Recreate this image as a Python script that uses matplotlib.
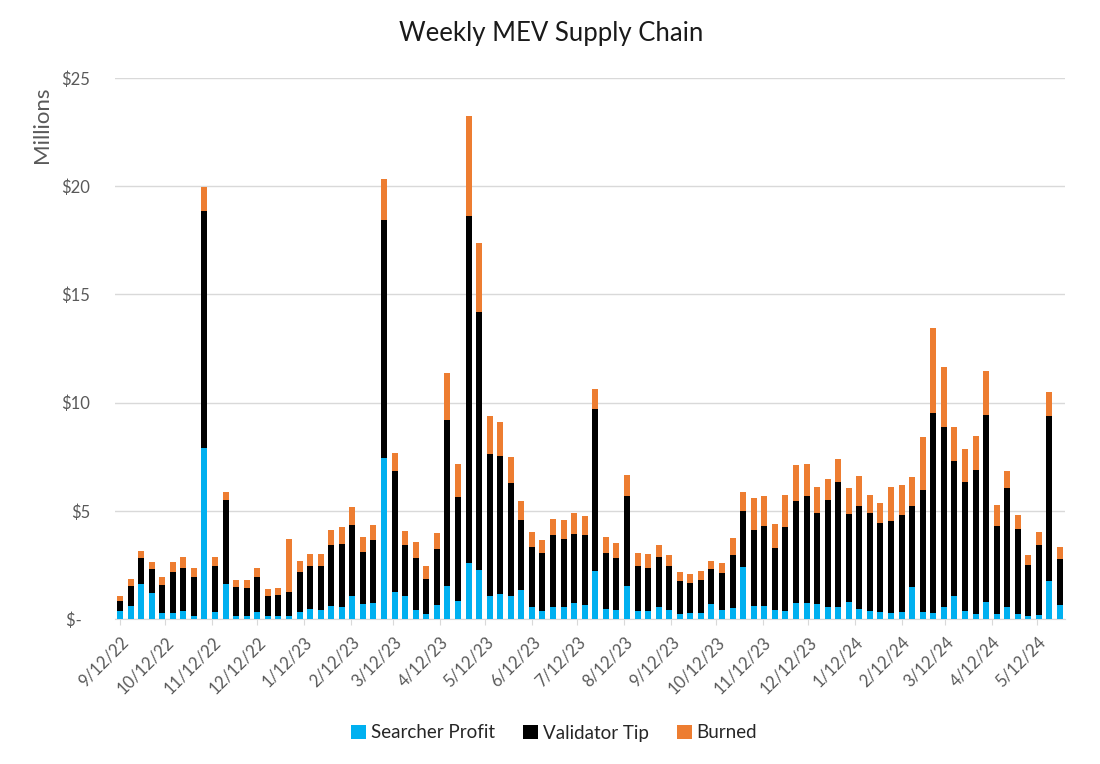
import numpy as np
import pandas as pd
import matplotlib
matplotlib.use("Agg")
import matplotlib.pyplot as plt
from matplotlib.ticker import FuncFormatter

plt.rcParams['font.family'] = ['Lato', 'DejaVu Sans']

# weekly buckets, first one labelled 9/12/22
weeks = pd.date_range("2022-09-12", periods=90, freq="7D")

# $ millions per week
searcher = [0.38, 0.58, 1.62, 1.22, 0.26, 0.26, 0.38, 0.15, 7.89, 0.31,
            1.62, 0.15, 0.15, 0.31, 0.15, 0.15, 0.15, 0.31, 0.46, 0.43,
            0.58, 0.56, 1.05, 0.70, 0.73, 7.45, 1.23, 1.05, 0.42, 0.23,
            0.63, 1.52, 0.81, 2.61, 2.25, 1.05, 1.17, 1.08, 1.33, 0.55,
            0.39, 0.55, 0.55, 0.75, 0.66, 2.21, 0.48, 0.40, 1.51, 0.37,
            0.37, 0.56, 0.43, 0.22, 0.28, 0.29, 0.71, 0.43, 0.52, 2.41,
            0.59, 0.59, 0.40, 0.37, 0.76, 0.75, 0.71, 0.55, 0.55, 0.78,
            0.48, 0.38, 0.31, 0.28, 0.31, 1.48, 0.31, 0.28, 0.54, 1.05,
            0.38, 0.25, 0.78, 0.25, 0.54, 0.25, 0.15, 0.20, 1.74, 0.66]
validator = [0.44, 0.96, 1.18, 1.09, 1.32, 1.89, 1.97, 1.77, 10.96, 2.15,
             3.87, 1.31, 1.28, 1.61, 0.93, 0.96, 1.08, 1.84, 2.00, 2.00,
             2.82, 2.89, 3.31, 2.41, 2.90, 10.97, 5.60, 2.37, 2.42, 1.63,
             2.60, 7.68, 4.85, 16.02, 11.95, 6.59, 6.36, 5.20, 3.23, 2.76,
             2.64, 3.34, 3.15, 3.20, 3.21, 7.50, 2.58, 2.42, 4.18, 2.08,
             1.99, 2.31, 2.02, 1.54, 1.40, 1.50, 1.62, 1.70, 2.43, 2.59,
             3.51, 3.73, 2.86, 3.89, 4.70, 4.95, 4.21, 4.96, 5.77, 4.08,
             4.72, 4.54, 4.11, 4.27, 4.51, 3.72, 5.66, 9.23, 8.35, 6.26,
             5.93, 6.64, 8.65, 4.06, 5.51, 3.92, 2.36, 3.23, 7.64, 2.11]
burned = [0.26, 0.31, 0.35, 0.31, 0.37, 0.50, 0.50, 0.43, 1.10, 0.39,
          0.36, 0.34, 0.37, 0.43, 0.30, 0.32, 2.46, 0.54, 0.54, 0.57,
          0.72, 0.82, 0.83, 0.67, 0.70, 1.92, 0.86, 0.64, 0.71, 0.59,
          0.75, 2.16, 1.48, 4.60, 3.18, 1.72, 1.56, 1.20, 0.91, 0.71,
          0.64, 0.75, 0.86, 0.95, 0.88, 0.92, 0.74, 0.70, 0.96, 0.61,
          0.63, 0.54, 0.50, 0.42, 0.42, 0.42, 0.36, 0.48, 0.77, 0.85,
          1.47, 1.36, 1.15, 1.46, 1.64, 1.46, 1.20, 0.97, 1.06, 1.19,
          1.43, 0.79, 0.93, 1.57, 1.35, 1.38, 2.43, 3.95, 2.74, 1.55,
          1.54, 1.57, 2.05, 0.94, 0.80, 0.65, 0.46, 0.57, 1.13, 0.58]

series_names = ['Searcher Profit', 'Validator Tip', 'Burned']
series_colors = ['#00B0F0', '#000000', '#ED7D31']

tick_dates = pd.date_range("2022-09-12", "2024-05-12", freq=pd.DateOffset(months=1))
tick_labels = [f"{d.month}/{d.day}/{d.year % 100}" for d in tick_dates]

W, H = 1100, 764
fig = plt.figure(figsize=(W / 100, H / 100), dpi=100)
ax = fig.add_axes([115 / W, 1 - 619 / H, 950 / W, 541 / H])

s = np.array(searcher)
v = np.array(validator)
b = np.array(burned)
ax.bar(weeks, s, width=4.0, color=series_colors[0], label=series_names[0], zorder=3)
ax.bar(weeks, v, width=4.0, bottom=s, color=series_colors[1], label=series_names[1], zorder=3)
ax.bar(weeks, b, width=4.0, bottom=s + v, color=series_colors[2], label=series_names[2], zorder=3)

ax.set_ylim(0, 25)
ax.set_yticks([0, 5, 10, 15, 20, 25])
ax.yaxis.set_major_formatter(FuncFormatter(lambda y, p: "$-  " if y == 0 else f"${y:.0f}"))
ax.grid(axis='y', color='#D9D9D9', linewidth=1.0, zorder=0)
ax.set_axisbelow(True)

pad = pd.Timedelta(days=3.3)
ax.set_xlim(weeks[0] - pad, weeks[-1] + pad)
ax.set_xticks(tick_dates)
ax.set_xticklabels(tick_labels, rotation=45, ha='right', rotation_mode='anchor')

for side in ['top', 'right', 'left']:
    ax.spines[side].set_visible(False)
ax.spines['bottom'].set_color('#D9D9D9')
ax.tick_params(axis='y', length=0, pad=18, labelsize=12, labelcolor='#595959')
ax.tick_params(axis='x', length=4, color='#D9D9D9', pad=7, labelsize=12, labelcolor='#595959')

fig.text(551 / W, 1 - 33 / H, 'Weekly MEV Supply Chain', ha='center', va='center',
         fontsize=18.5, color='#1a1a1a')
fig.text(42 / W, 1 - 125 / H, 'Millions', rotation=90, ha='center', va='center',
         fontsize=16, color='#595959')

fig.legend(loc='center', bbox_to_anchor=(554 / W, 1 - 733 / H), ncol=3, frameon=False,
           fontsize=13.5, handlelength=0.8, handleheight=0.8, handletextpad=0.25,
           columnspacing=1.5, labelcolor='#262626')

fig.savefig('out.png', dpi=100)
